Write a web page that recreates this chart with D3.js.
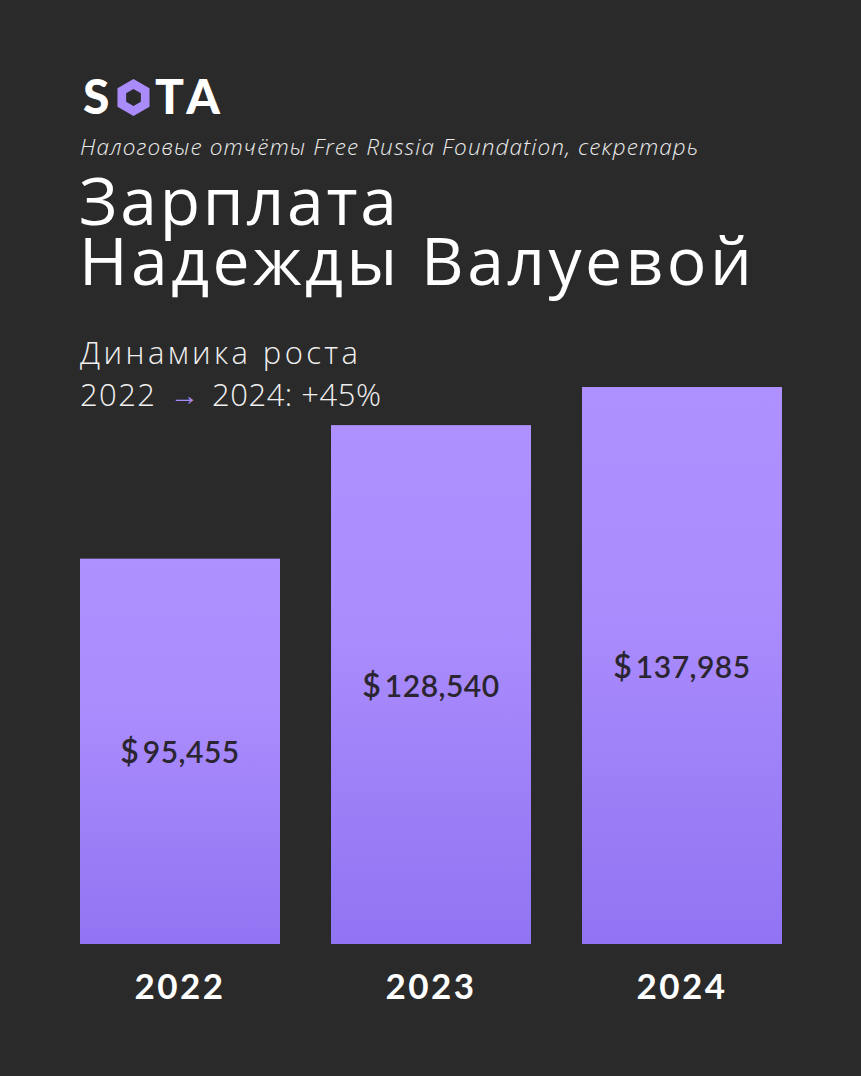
<!DOCTYPE html>
<html><head><meta charset="utf-8">
<script src="https://cdn.jsdelivr.net/npm/d3@7"></script>
<style>
html,body{margin:0;padding:0;background:#2a2a2a;}
svg{display:block;}
</style></head>
<body>
<script>
const years = ["2022", "2023", "2024"];
const salaries = [95455, 128540, 137985];
const valueLabels = ["95,455", "128,540", "137,985"];
const source = "Налоговые отчёты Free Russia Foundation, секретарь";
const titleLines = ["Зарплата", "Надежды Валуевой"];
const growthTitle = "Динамика роста";
const growthFrom = "2022";
const growthTo = "2024: +45%";

const W = 861, H = 1076;
const FONT = "'Lato', sans-serif";
const WIDE = "'Open Sans', sans-serif";
const svg = d3.select("body").append("svg").attr("width", W).attr("height", H);
svg.append("rect").attr("width", W).attr("height", H).attr("fill", "#2a2a2a");

// stretch a text/tspan to a target width via letter-spacing
function fit(sel, target) {
  const node = sel.node();
  const n = node.textContent.length;
  const len = node.getComputedTextLength();
  sel.attr("letter-spacing", ((target - len) / Math.max(1, n - 1)).toFixed(2));
}

const defs = svg.append("defs");
const grad = defs.append("linearGradient").attr("id", "barGrad")
  .attr("x1", 0).attr("y1", 0).attr("x2", 0).attr("y2", 1);
grad.append("stop").attr("offset", "0%").attr("stop-color", "#ae90fe");
grad.append("stop").attr("offset", "40%").attr("stop-color", "#aa8cfd");
grad.append("stop").attr("offset", "100%").attr("stop-color", "#9074f2");

const x = d3.scaleBand().domain(years).range([80, 782]).paddingInner(51/251).paddingOuter(0);
const y = d3.scaleLinear().domain([0, 137985]).range([944, 387]);

// Logo
const logo = svg.append("g");
logo.append("text").attr("x", 83).attr("y", 114).text("S")
  .attr("font-family", FONT).attr("font-weight", 900).attr("font-size", 48).attr("fill", "#fff");
const hex = (cx, cy, r) => d3.range(6).map(i => {
  const a = Math.PI / 3 * i - Math.PI / 2;
  return [cx + r * Math.cos(a), cy + r * Math.sin(a)];
});
const outer = hex(133.5, 97.5, 18.5), inner = hex(133.5, 97.5, 8.5);
const pth = "M" + outer.join("L") + "Z M" + inner.reverse().join("L") + "Z";
logo.append("path").attr("d", pth).attr("fill", "#a98bf9").attr("fill-rule", "evenodd");
const ta = logo.append("text").attr("x", 155).attr("y", 114).text("TA")
  .attr("font-family", FONT).attr("font-weight", 900).attr("font-size", 48).attr("fill", "#fff");
fit(ta, 65);

// source
const src = svg.append("text").attr("x", 80).attr("y", 155).text(source)
  .attr("font-family", WIDE).attr("font-style", "italic").attr("font-weight", 300)
  .attr("font-size", 22.5).attr("fill", "#ececec");
fit(src, 618);

// title (one text element, two lines)
const title = svg.append("text")
  .attr("font-family", WIDE).attr("font-weight", 400)
  .attr("font-size", 66).attr("fill", "#fff");
titleLines.forEach((t, i) => {
  const ts = title.append("tspan").attr("x", 79).attr("y", 225 + i * 60).text(t);
  fit(ts, i === 0 ? 318 : 673);
});

// growth
const gt = svg.append("text").attr("x", 80).attr("y", 364).text(growthTitle)
  .attr("font-family", WIDE).attr("font-weight", 300)
  .attr("font-size", 31).attr("fill", "#f0f0f0");
fit(gt, 278);
const g2 = svg.append("text").attr("y", 406)
  .attr("font-family", WIDE).attr("font-weight", 300)
  .attr("font-size", 31).attr("fill", "#f0f0f0");
const t1 = g2.append("tspan").attr("x", 80).text(growthFrom);
fit(t1, 75);
g2.append("tspan").attr("x", 170).attr("y", 405).text("→").attr("fill", "#a98bf9")
  .attr("font-size", 29).attr("letter-spacing", 0);
const t2 = g2.append("tspan").attr("x", 212).attr("y", 406).text(growthTo);
fit(t2, 169);

// bars
const bars = svg.append("g");
bars.selectAll("rect").data(years).join("rect")
  .attr("x", d => x(d)).attr("width", x.bandwidth())
  .attr("y", (d, i) => y(salaries[i])).attr("height", (d, i) => y(0) - y(salaries[i]))
  .attr("fill", "url(#barGrad)");

// value labels
const vl = bars.selectAll("text.val").data(years).join("text").attr("class", "val")
  .attr("x", d => x(d) + x.bandwidth() / 2)
  .attr("y", (d, i) => (y(salaries[i]) + y(0)) / 2 + 12)
  .attr("text-anchor", "middle")
  .attr("font-family", FONT).attr("font-weight", 600)
  .attr("font-size", 30).attr("fill", "#2a2530");
vl.append("tspan").text("$").attr("font-size", 32);
vl.append("tspan").text((d, i) => valueLabels[i]).attr("dx", 4).attr("letter-spacing", 0.5);

// year labels
svg.append("g").selectAll("text").data(years).join("text")
  .attr("x", d => x(d) + x.bandwidth() / 2).attr("y", 999)
  .attr("text-anchor", "middle").text(d => d)
  .attr("font-family", FONT).attr("font-weight", 700)
  .attr("font-size", 35).attr("fill", "#fff").attr("letter-spacing", 2.5);
</script>
</body></html>
